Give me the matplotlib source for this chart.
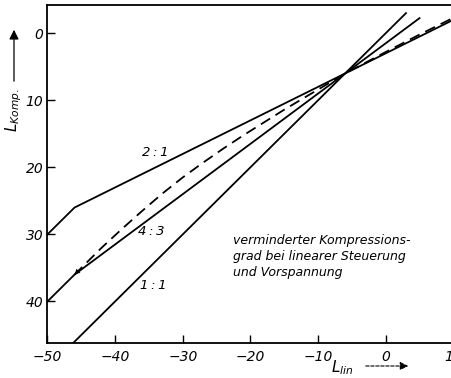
import matplotlib.pyplot as plt
from matplotlib.patches import FancyArrowPatch

# -------------------------------------------------
# Data (L_lin -> L_Komp.)
# -------------------------------------------------
x_11 = [-50, 3]
y_11 = [50, -3]

x_43 = [-50, -46, 5]
y_43 = [40, 36, -2.25]

x_21 = [-50, -46, 10]
y_21 = [30, 26, -2]

# dashed: reduced compression with linear control and bias
x_dash = [-46, -44, -42, -39, -36, -33, -30, -27, -24, -21, -18, -15, -12, -9, -6, -3, 0, 5, 10]
y_dash = [36, 34.0, 32.0, 29.2, 26.5, 23.9, 21.5, 19.3, 17.2, 15.2, 13.3, 11.4, 9.6, 7.8, 6.0, 4.4, 2.8, 0.2, -2.3]

labels = ["2:1", "4:3", "1:1"]
label_x = [-34.1, -34.6, -34.4]
label_y = [17.8, 29.6, 37.6]

note = "verminderter Kompressions-\ngrad bei linearer Steuerung\nund Vorspannung"

xticks = [-50, -40, -30, -20, -10, 0, 10]
yticks = [0, 10, 20, 30, 40]

# -------------------------------------------------
# Figure
# -------------------------------------------------
plt.rcParams['mathtext.fontset'] = 'dejavusans'
fig = plt.figure(figsize=(4.52, 3.78), dpi=100)
ax = fig.add_axes([0.105, 0.0926, 0.898, 0.894])

lw = 1.3
ax.plot(x_11, y_11, color="black", lw=lw)
ax.plot(x_43, y_43, color="black", lw=lw)
ax.plot(x_21, y_21, color="black", lw=lw)
ax.plot(x_dash, y_dash, color="black", lw=lw, dashes=(6, 3.5))

# arrow head at start of dashed curve
ax.annotate("", xy=(x_dash[0], y_dash[0]), xytext=(x_dash[2], y_dash[2]),
            arrowprops=dict(arrowstyle="-|>", color="black", lw=0,
                            mutation_scale=10, shrinkA=0, shrinkB=0))

for t, lx, ly in zip(labels, label_x, label_y):
    ax.text(lx, ly, t.replace(":", "\u2009:\u2009"), fontsize=9.5, style="italic",
            ha="center", va="center")

ax.text(-22.6, 30.0, note, fontsize=9, style="italic", ha="left", va="top",
        linespacing=1.3)

ax.set_xlim(-50, 10)
ax.set_ylim(46.2, -4.2)
ax.set_xticks(xticks)
ax.set_yticks(yticks)
ax.set_xticklabels([str(v).replace("-", "\u2212") for v in xticks],
                   fontsize=10, style="italic")
ax.set_yticklabels([str(v) for v in yticks], fontsize=10, style="italic")
ax.tick_params(direction="in", length=6, width=1)
ax.tick_params(axis="y", pad=3)
ax.tick_params(axis="x", pad=5)
for s in ax.spines.values():
    s.set_linewidth(1.3)

# axis labels with arrows
fig.text(331 / 452, 1 - 368 / 378, r"$L_{lin}$", fontsize=11,
         ha="left", va="center")
fig.patches.append(FancyArrowPatch(
    (363 / 452, 1 - 366 / 378), (411 / 452, 1 - 366 / 378),
    transform=fig.transFigure, arrowstyle="-|>", mutation_scale=12,
    color="black", lw=0.8, linestyle=(0, (3, 1.5))))

fig.text(14 / 452, 1 - 110 / 378, r"$L_{Komp.}$", fontsize=11,
         rotation=90, ha="center", va="center")
fig.patches.append(FancyArrowPatch(
    (14 / 452, 1 - 84 / 378), (14 / 452, 1 - 27 / 378),
    transform=fig.transFigure, arrowstyle="-|>", mutation_scale=14,
    color="black", lw=0.9))

fig.savefig("out.png", dpi=100)
